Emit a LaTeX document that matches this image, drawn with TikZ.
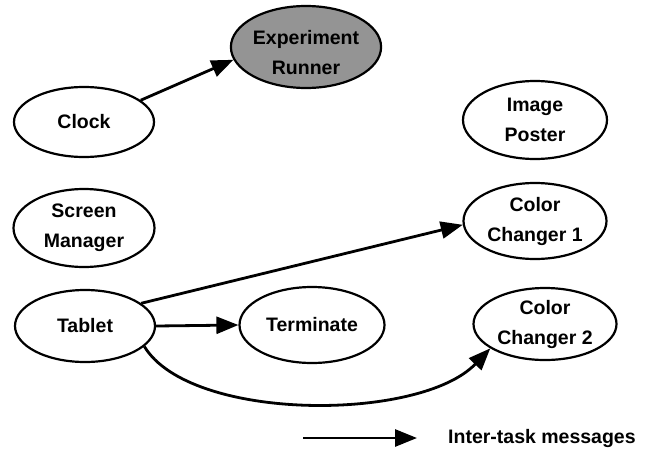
\documentclass[tikz,border=0pt]{standalone}
\usepackage{fontspec}
\setmainfont{Liberation Sans}
\usetikzlibrary{shapes.geometric,arrows.meta}
\begin{document}
\begin{tikzpicture}[x=1pt,y=-1pt,
  task/.style={ellipse,draw=black,line width=2.2pt,inner sep=0pt,align=center,
    font=\bfseries\fontsize{19.5}{30}\selectfont},
  msg/.style={line width=2.8pt,-{Triangle[length=22pt,width=17pt]}},
  legendtext/.style={font=\bfseries\fontsize{19.5}{22}\selectfont,anchor=west,inner sep=0pt}]
\useasboundingbox (0,0) rectangle (647,450);
\node[task,minimum width=140pt,minimum height=70pt] (clock) at (84,122) {Clock};
\node[task,fill=black!42,minimum width=142pt,minimum height=82pt] (runner) at (306,47) {\rule{0pt}{26pt}Experiment\\Runner};
\node[task,minimum width=144pt,minimum height=78pt] (poster) at (535,120) {Image\\Poster};
\node[task,minimum width=141pt,minimum height=78pt] (screen) at (84,228) {Screen\\Manager};
\node[task,minimum width=143pt,minimum height=76pt] (cc1) at (535,221) {Color\\Changer 1};
\node[task,minimum width=140pt,minimum height=72pt] (tablet) at (85,326) {Tablet};
\node[task,minimum width=145pt,minimum height=76pt] (term) at (312,325) {Terminate};
\node[task,minimum width=143pt,minimum height=72pt] (cc2) at (545,324) {Color\\Changer 2};
\draw[msg] (clock.21) -- (runner.190);
\draw[msg] (tablet.22) -- (cc1.183);
\draw[msg] (tablet.east) -- (term.west);
\draw[msg] (tablet.-19) .. controls (190,422) and (420,422) .. (cc2.204);
\coordinate (legA) at (303,438);
\coordinate (legB) at (417,438);
\draw[msg] (legA) -- (legB);
\node[legendtext] (legend) at (448,438) {Inter-task messages};
\end{tikzpicture}
\end{document}
